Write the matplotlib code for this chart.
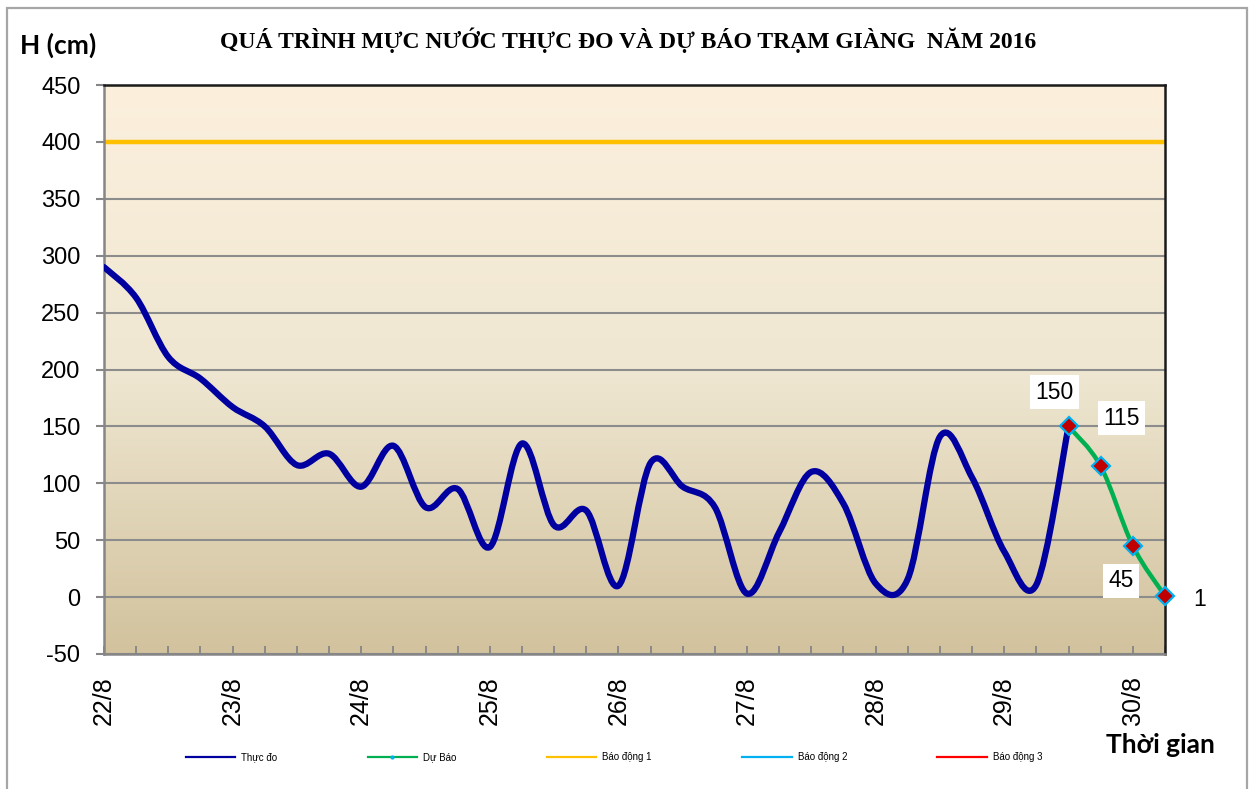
import numpy as np
import matplotlib
matplotlib.use("Agg")
import matplotlib.pyplot as plt
from matplotlib.path import Path
from matplotlib.patches import PathPatch, Rectangle
from matplotlib.lines import Line2D
from matplotlib.colors import LinearSegmentedColormap

plt.rcParams["axes.unicode_minus"] = False

# Du lieu: muc nuoc thuc do (moi 6 gio, tu 22/8) va du bao
thuc_do = [290, 263, 211, 192, 167, 150, 116, 126, 97, 133,
           79, 95, 44, 135, 63, 76, 10, 118, 97, 79,
           3, 57, 110, 82, 12, 16, 141, 105, 40, 11, 150]
du_bao = [150, 115, 45, 1]
bao_dong_1 = 400
nhan_ngay = ["22/8", "23/8", "24/8", "25/8", "26/8", "27/8", "28/8", "29/8", "30/8"]
nhan_du_bao = ["150", "115", "45", "1"]

W, H = 1252, 789
DPI = 100


def bezier_path(xs, ys):
    # duong cong tron kieu Excel (Catmull-Rom -> Bezier)
    p = np.column_stack([xs, ys]).astype(float)
    n = len(p)
    verts = [p[0]]
    codes = [Path.MOVETO]
    for i in range(n - 1):
        p0 = p[i - 1] if i > 0 else p[i]
        p1 = p[i]
        p2 = p[i + 1]
        p3 = p[i + 2] if i + 2 < n else p[i + 1]
        c1 = p1 + (p2 - p0) / 6.0
        c2 = p2 - (p3 - p1) / 6.0
        verts += [c1, c2, p2]
        codes += [Path.CURVE4] * 3
    return Path(verts, codes)


fig = plt.figure(figsize=(W / DPI, H / DPI), dpi=DPI)
fig.patch.set_facecolor("white")

# vien ngoai
fig.patches.append(Rectangle((7 / W, -0.02), (1247 - 7) / W, 1.02 - 8 / H,
                             transform=fig.transFigure, fill=False,
                             edgecolor="#A6A6A6", linewidth=1.6))

x0, x1, y0, y1 = 104, 1165, 85, 654
ax = fig.add_axes([x0 / W, (H - y1) / H, (x1 - x0) / W, (y1 - y0) / H])

# nen gradient
cmap = LinearSegmentedColormap.from_list("nen", ["#FCF0DD", "#EFE7D2", "#D2C29D"])
ax.imshow(np.linspace(0, 1, 256).reshape(-1, 1), cmap=cmap, aspect="auto",
          extent=[0, 1, 0, 1], transform=ax.transAxes, zorder=0)

n_tot = len(thuc_do) + len(du_bao) - 1
ax.set_xlim(0, n_tot - 1)
ax.set_ylim(-50, 450)
ax.set_yticks(np.arange(-50, 451, 50))
ax.yaxis.grid(True, color="#8C8C8C", linewidth=1.5, zorder=1)
ax.set_axisbelow(True)

# bao dong 1
ax.axhline(bao_dong_1, color="#FFC000", linewidth=3.2, zorder=2)

# thuc do
x_td = np.arange(len(thuc_do))
ax.add_patch(PathPatch(bezier_path(x_td, thuc_do), facecolor="none",
                       edgecolor="#0000A0", linewidth=4.5, zorder=3,
                       capstyle="round", joinstyle="round"))

# du bao
x_db = np.arange(len(thuc_do) - 1, n_tot)
ax.add_patch(PathPatch(bezier_path(x_db, du_bao), facecolor="none",
                       edgecolor="#00B050", linewidth=3.2, zorder=4,
                       capstyle="round"))
ax.plot(x_db, du_bao, linestyle="none", marker="D", markersize=9.5,
        markerfacecolor="#C00000", markeredgecolor="#00B0F0",
        markeredgewidth=1.6, zorder=5, clip_on=False)

offsets = [(-14, 34), (21, 48), (-12, -35), (35, -4)]
for xv, yv, lab, off in zip(x_db, du_bao, nhan_du_bao, offsets):
    ax.annotate(lab, (xv, yv), xytext=off, textcoords="offset pixels",
                ha="center", va="center", fontsize=16.5,
                family="Liberation Sans", zorder=6,
                bbox=dict(facecolor="white", edgecolor="none", pad=4))

# truc
for s in ["left", "bottom"]:
    ax.spines[s].set_color("#868686")
    ax.spines[s].set_linewidth(1.8)
for s in ["top", "right"]:
    ax.spines[s].set_color("#1A1A1A")
    ax.spines[s].set_linewidth(1.8)

ax.set_xticks(np.arange(0, n_tot - 1, 4))
ax.set_xticklabels(nhan_ngay)
ax.set_xticks(np.arange(0, n_tot), minor=True)
ax.tick_params(axis="x", which="both", direction="in", length=6,
               width=1.3, color="#868686")
ax.tick_params(axis="x", which="major", labelsize=18, labelrotation=90, pad=16)
ax.tick_params(axis="y", direction="out", length=6, width=1.5,
               color="#868686", labelsize=17, pad=11)
for t in ax.get_xticklabels() + ax.get_yticklabels():
    t.set_family("Liberation Sans")

# tieu de
fig.text(628 / W, 1 - 40 / H,
         "QUÁ TRÌNH MỰC NƯỚC THỰC ĐO VÀ DỰ BÁO TRẠM GIÀNG  NĂM 2016",
         ha="center", va="center", fontsize=17, fontweight="bold",
         family="Liberation Serif")
fig.text(58 / W, 1 - 45 / H, "H (cm)", ha="center", va="center",
         fontsize=19, fontweight="bold", family=["Lato", "DejaVu Sans"])
fig.text(1160 / W, 1 - 745 / H, "Thời gian", ha="center", va="center",
         fontsize=19, fontweight="bold", family=["Lato", "DejaVu Sans"])

# chu giai
handles = [
    Line2D([], [], color="#0000A0", linewidth=1.6),
    Line2D([], [], color="#00B050", linewidth=1.6, marker="o", markersize=2,
           markerfacecolor="#00B0F0", markeredgecolor="#00B0F0"),
    Line2D([], [], color="#FFC000", linewidth=1.6),
    Line2D([], [], color="#00B0F0", linewidth=1.6),
    Line2D([], [], color="#FF0000", linewidth=1.6),
]
labels = ["Thực đo", "Dự Báo", "Báo động 1", "Báo động 2", "Báo động 3"]
fig.legend(handles, labels, loc="center", bbox_to_anchor=(614 / W, 1 - 757 / H),
           ncol=5, frameon=False, handlelength=5.1,
           handletextpad=0.6, columnspacing=9.3, numpoints=1,
           prop={"family": "Liberation Sans", "size": 7})

fig.savefig("out.png", dpi=DPI)
